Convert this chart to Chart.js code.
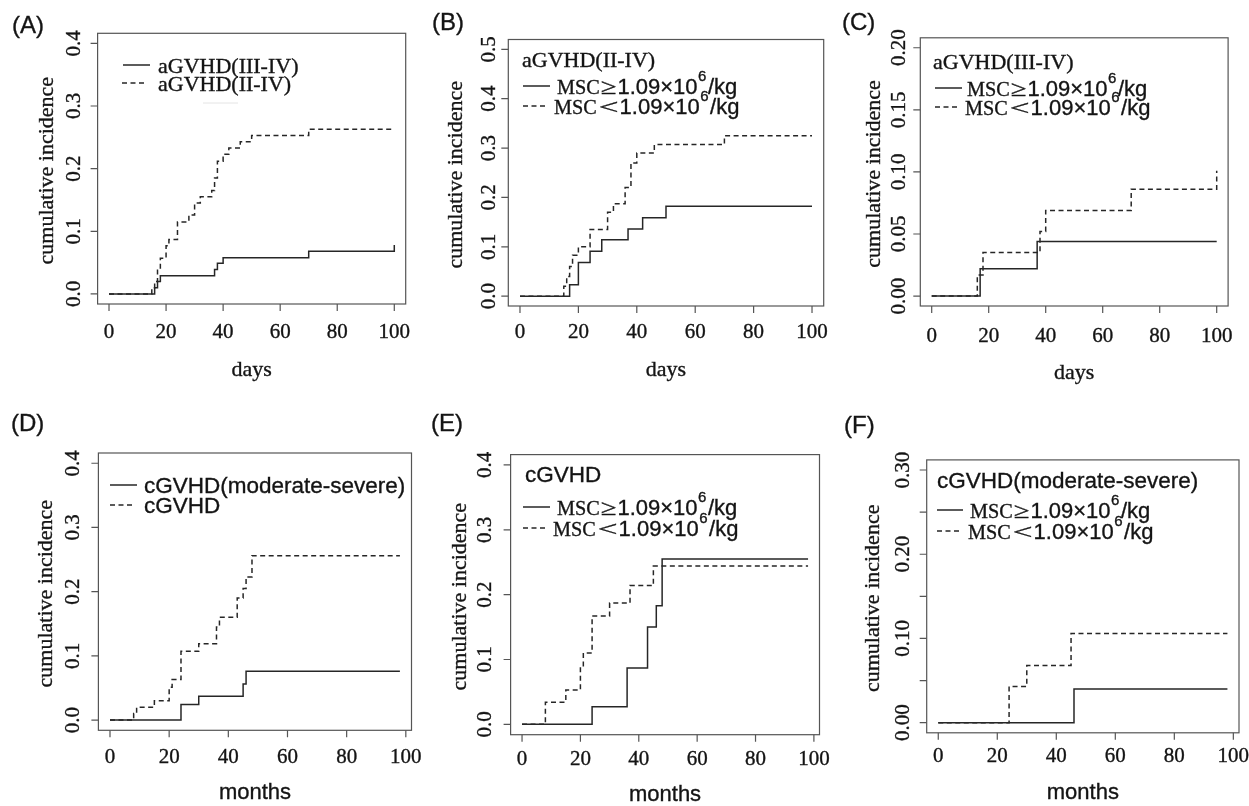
<!DOCTYPE html>
<html>
<head>
<meta charset="utf-8">
<script src="https://cdn.jsdelivr.net/npm/chart.js@4.4.1/dist/chart.umd.min.js"></script>
<style>
html,body{margin:0;padding:0;background:#fff;}
#wrap{position:relative;width:1249px;height:806px;overflow:hidden;background:#fff;}
#wrap canvas{position:absolute;left:0;top:0;}
</style>
</head>
<body>
<div id="wrap"></div>
<script>
// ---------------- DATA ----------------
const xTickValues = [0, 20, 40, 60, 80, 100];
const xTickLabels = ['0', '20', '40', '60', '80', '100'];

const yTicks04 = [0, 0.1, 0.2, 0.3, 0.4];
const yTickLabels04 = ['0.0', '0.1', '0.2', '0.3', '0.4'];
const yTicks05 = [0, 0.1, 0.2, 0.3, 0.4, 0.5];
const yTickLabels05 = ['0.0', '0.1', '0.2', '0.3', '0.4', '0.5'];
const yTicks02 = [0, 0.05, 0.10, 0.15, 0.20];
const yTickLabels02 = ['0.00', '0.05', '0.10', '0.15', '0.20'];
const yTicks03 = [0, 0.05, 0.10, 0.15, 0.20, 0.25, 0.30];
const yTickLabels03 = ['0.00', '', '0.10', '', '0.20', '', '0.30'];

// (A) days
const aGradeIIIIV_x = [0, 16, 17, 18, 37, 38, 40, 70, 100];
const aGradeIIIIV_y = [0, 0.010, 0.020, 0.029, 0.039, 0.049, 0.058, 0.068, 0.078];
const aGradeIIIV_x  = [0, 15, 16, 17, 18, 20, 21, 24, 28, 30, 32, 36, 37, 38, 40, 42, 46, 50, 70, 100];
const aGradeIIIV_y  = [0, 0.010, 0.020, 0.038, 0.057, 0.077, 0.087, 0.115, 0.126, 0.145, 0.155, 0.165, 0.185, 0.212, 0.223, 0.233, 0.243, 0.253, 0.263, 0.263];

// (B) days, aGVHD(II-IV)
const bHigh_x = [0, 17, 20, 24, 28, 37, 42, 50, 100];
const bHigh_y = [0, 0.023, 0.068, 0.091, 0.114, 0.136, 0.159, 0.182, 0.182];
const bLow_x  = [0, 15, 16, 17, 18, 20, 24, 30, 32, 36, 38, 40, 46, 70, 100];
const bLow_y  = [0, 0.020, 0.040, 0.060, 0.083, 0.100, 0.135, 0.170, 0.187, 0.220, 0.270, 0.290, 0.307, 0.325, 0.325];

// (C) days, aGVHD(III-IV)
const cHigh_x = [0, 17, 37, 100];
const cHigh_y = [0, 0.022, 0.044, 0.044];
const cLow_x  = [0, 16, 18, 38, 40, 70, 100];
const cLow_y  = [0, 0.017, 0.035, 0.052, 0.069, 0.086, 0.101];

// (D) months
const dModSev_x = [0, 24, 30, 45, 46, 98];
const dModSev_y = [0, 0.024, 0.037, 0.056, 0.076, 0.076];
const dAll_x    = [0, 8, 9, 15, 20, 21, 24, 30, 36, 37, 43, 45, 46, 48, 98];
const dAll_y    = [0, 0.010, 0.020, 0.030, 0.051, 0.063, 0.107, 0.119, 0.145, 0.160, 0.190, 0.205, 0.223, 0.256, 0.256];

// (E) months, cGVHD
const eHigh_x = [0, 24, 36, 43, 46, 48, 98];
const eHigh_y = [0, 0.027, 0.087, 0.150, 0.183, 0.255, 0.255];
const eLow_x  = [0, 8, 15, 20, 21, 24, 30, 37, 45, 98];
const eLow_y  = [0, 0.034, 0.053, 0.089, 0.110, 0.167, 0.187, 0.214, 0.244, 0.244];

// (F) months, cGVHD(moderate-severe)
const fHigh_x = [0, 46, 98];
const fHigh_y = [0, 0.040, 0.040];
const fLow_x  = [0, 24, 30, 45, 98];
const fLow_y  = [0, 0.043, 0.068, 0.106, 0.106];

// ---------------- STYLE / LAYOUT ----------------
const W = 1249, H = 806;
const SERIF = '"Liberation Serif","DejaVu Serif","Times New Roman",serif';
const SANS = '"Liberation Sans",Arial,"DejaVu Sans",sans-serif';
const LINE_COLOR = '#262626';
const BOX_COLOR = '#555555';
const TEXT_COLOR = '#141414';
const TEXT_STROKE = 0.35;
const DASH = [5, 3.5];

const toPoints = (xs, ys) => xs.map((x, i) => ({ x: x, y: ys[i] }));

function run(t, f, s, o) { return Object.assign({ t: t, f: f, s: s, sx: 1, pre: 0, post: 0, dy: 0 }, o || {}); }
function mscRuns(sign) {
  return [
    run('MSC', SERIF, 22, { sx: 0.92 }),
    run(sign, SERIF, 22, sign === '≥' ? { sx: 1.3, pre: 1, post: 1 } : { sx: 1.6, pre: 2, post: 1 }),
    run('1.09×10', SANS, 22),
    run('6', SANS, 15, { pre: 0.5, dy: -13 }),
    run('/kg', SANS, 22, { pre: 1.5 })
  ];
}

const panels = [
  { id: 'A', box: { l: 97.6, t: 33.3, r: 405.7, b: 304 }, xr: [-4, 104], yr: [-0.016, 0.416],
    yTicks: yTicks04, yLabels: yTickLabels04, xLabOff: 28.5, yLabOff: 23.5, yTitleOff: 50.5,
    xTitle: { t: 'days', f: SERIF, s: 22, y: 370 }, letter: { t: '(A)', x: 12, y: 26 },
    series: [ { x: aGradeIIIIV_x, y: aGradeIIIIV_y, dashed: false, label: 'aGVHD(III-IV)' },
              { x: aGradeIIIV_x, y: aGradeIIIV_y, dashed: true, label: 'aGVHD(II-IV)' } ],
    legend: [ { line: 'solid', x1: 123, x2: 150, y: 65, tx: 158, runs: [run('aGVHD(III-IV)', SERIF, 22)] },
              { line: 'dashed', x1: 122, x2: 147, y: 83, tx: 158, runs: [run('aGVHD(II-IV)', SERIF, 22)] } ],
    faint: { x1: 203, x2: 238, y: 103 } },
  { id: 'B', box: { l: 508.3, t: 39.5, r: 823.7, b: 306 }, xr: [-4, 104], yr: [-0.02, 0.52],
    yTicks: yTicks05, yLabels: yTickLabels05, xLabOff: 26.5, yLabOff: 19, yTitleOff: 52,
    xTitle: { t: 'days', f: SERIF, s: 22, y: 370 }, letter: { t: '(B)', x: 432, y: 23 },
    series: [ { x: bHigh_x, y: bHigh_y, dashed: false, label: 'MSC≥1.09×10^6/kg' },
              { x: bLow_x, y: bLow_y, dashed: true, label: 'MSC<1.09×10^6/kg' } ],
    legend: [ { line: null, y: 59, tx: 522, runs: [run('aGVHD(II-IV)', SERIF, 22)] },
              { line: 'solid', x1: 523, x2: 550, y: 86, tx: 557, runs: mscRuns('≥') },
              { line: 'dashed', x1: 523, x2: 547, y: 106, tx: 554, runs: mscRuns('<') } ] },
  { id: 'C', box: { l: 920.3, t: 37.8, r: 1228.1, b: 306 }, xr: [-4, 104], yr: [-0.008, 0.208],
    yTicks: yTicks02, yLabels: yTickLabels02, xLabOff: 30, yLabOff: 21, yTitleOff: 46.5,
    xTitle: { t: 'days', f: SERIF, s: 22, y: 373 }, letter: { t: '(C)', x: 842, y: 23 },
    series: [ { x: cHigh_x, y: cHigh_y, dashed: false, label: 'MSC≥1.09×10^6/kg' },
              { x: cLow_x, y: cLow_y, dashed: true, label: 'MSC<1.09×10^6/kg' } ],
    legend: [ { line: null, y: 61, tx: 933, runs: [run('aGVHD(III-IV)', SERIF, 22)] },
              { line: 'solid', x1: 935, x2: 962, y: 88, tx: 967, runs: mscRuns('≥') },
              { line: 'dashed', x1: 935, x2: 960, y: 107, tx: 965, runs: mscRuns('<') } ] },
  { id: 'D', box: { l: 98.4, t: 453, r: 411.5, b: 730.3 }, xr: [-3.92, 101.92], yr: [-0.016, 0.416],
    yTicks: yTicks04, yLabels: yTickLabels04, xLabOff: 26.7, yLabOff: 25, yTitleOff: 52,
    xTitle: { t: 'months', f: SANS, s: 22, y: 793 }, letter: { t: '(D)', x: 11, y: 424 },
    series: [ { x: dModSev_x, y: dModSev_y, dashed: false, label: 'cGVHD(moderate-severe)' },
              { x: dAll_x, y: dAll_y, dashed: true, label: 'cGVHD' } ],
    legend: [ { line: 'solid', x1: 110, x2: 137, y: 485, tx: 144, runs: [run('cGVHD(moderate-severe)', SANS, 22.5)] },
              { line: 'dashed', x1: 110, x2: 134, y: 505, tx: 144, runs: [run('cGVHD', SANS, 22.5)] } ] },
  { id: 'E', box: { l: 510.6, t: 454.6, r: 819.5, b: 734.7 }, xr: [-3.92, 101.92], yr: [-0.016, 0.416],
    yTicks: yTicks04, yLabels: yTickLabels04, xLabOff: 24.5, yLabOff: 25.5, yTitleOff: 50,
    xTitle: { t: 'months', f: SANS, s: 22, y: 795 }, letter: { t: '(E)', x: 431, y: 424 },
    series: [ { x: eHigh_x, y: eHigh_y, dashed: false, label: 'MSC≥1.09×10^6/kg' },
              { x: eLow_x, y: eLow_y, dashed: true, label: 'MSC<1.09×10^6/kg' } ],
    legend: [ { line: null, y: 474, tx: 525, runs: [run('cGVHD', SANS, 22.5)] },
              { line: 'solid', x1: 523, x2: 550, y: 507, tx: 557, runs: mscRuns('≥') },
              { line: 'dashed', x1: 523, x2: 547, y: 528, tx: 553, runs: mscRuns('<') } ] },
  { id: 'F', box: { l: 926.7, t: 459.9, r: 1239, b: 732.8 }, xr: [-3.92, 101.92], yr: [-0.012, 0.312],
    yTicks: yTicks03, yLabels: yTickLabels03, xLabOff: 23.5, yLabOff: 23.7, yTitleOff: 53,
    xTitle: { t: 'months', f: SANS, s: 22, y: 793 }, letter: { t: '(F)', x: 844, y: 426 },
    series: [ { x: fHigh_x, y: fHigh_y, dashed: false, label: 'MSC≥1.09×10^6/kg' },
              { x: fLow_x, y: fLow_y, dashed: true, label: 'MSC<1.09×10^6/kg' } ],
    legend: [ { line: null, y: 480, tx: 937, runs: [run('cGVHD(moderate-severe)', SANS, 22.5)] },
              { line: 'solid', x1: 937, x2: 963, y: 510, tx: 970, runs: mscRuns('≥') },
              { line: 'dashed', x1: 937, x2: 961, y: 531, tx: 968, runs: mscRuns('<') } ] }
];

// ---------------- DRAWING ----------------
function txt(ctx, s, x, y) {
  ctx.fillText(s, x, y);
  ctx.strokeText(s, x, y);
}

function drawRuns(ctx, x, baseline, runs) {
  ctx.textAlign = 'left';
  ctx.textBaseline = 'alphabetic';
  let cx = x;
  runs.forEach(r => {
    cx += r.pre;
    ctx.font = r.s + 'px ' + r.f;
    const w = ctx.measureText(r.t).width * r.sx;
    ctx.save();
    ctx.translate(cx, baseline + r.dy);
    ctx.scale(r.sx, 1);
    txt(ctx, r.t, 0, 0);
    ctx.restore();
    cx += w + r.post;
  });
}

function framePlugin(p) {
  return {
    id: 'rframe' + p.id,
    afterDraw(chart) {
      const ctx = chart.ctx;
      const xs = chart.scales.x, ys = chart.scales.y;
      const a = chart.chartArea;
      ctx.save();
      // box
      ctx.strokeStyle = BOX_COLOR;
      ctx.lineWidth = 1.2;
      ctx.setLineDash([]);
      ctx.strokeRect(a.left, a.top, a.right - a.left, a.bottom - a.top);
      // x axis ticks
      ctx.beginPath();
      xTickValues.forEach(v => {
        const px = xs.getPixelForValue(v);
        ctx.moveTo(px, a.bottom);
        ctx.lineTo(px, a.bottom + 7);
      });
      // y axis ticks
      p.yTicks.forEach(v => {
        const py = ys.getPixelForValue(v);
        ctx.moveTo(a.left, py);
        ctx.lineTo(a.left - 7, py);
      });
      ctx.stroke();
      // text style
      ctx.fillStyle = TEXT_COLOR;
      ctx.strokeStyle = TEXT_COLOR;
      ctx.lineWidth = TEXT_STROKE;
      // tick labels
      ctx.font = '21px ' + SERIF;
      ctx.textAlign = 'center';
      ctx.textBaseline = 'middle';
      xTickValues.forEach((v, i) => {
        txt(ctx, xTickLabels[i], xs.getPixelForValue(v), a.bottom + p.xLabOff);
      });
      p.yTicks.forEach((v, i) => {
        const lab = p.yLabels[i];
        if (!lab) return;
        ctx.save();
        ctx.translate(a.left - p.yLabOff, ys.getPixelForValue(v));
        ctx.rotate(-Math.PI / 2);
        txt(ctx, lab, 0, 0);
        ctx.restore();
      });
      // axis titles
      ctx.font = p.xTitle.s + 'px ' + p.xTitle.f;
      txt(ctx, p.xTitle.t, (a.left + a.right) / 2, p.xTitle.y);
      ctx.save();
      ctx.font = '22px ' + SERIF;
      ctx.translate(a.left - p.yTitleOff, (a.top + a.bottom) / 2 + 2);
      ctx.rotate(-Math.PI / 2);
      txt(ctx, 'cumulative incidence', 0, 0);
      ctx.restore();
      // panel letter
      ctx.font = '24px ' + SANS;
      ctx.textAlign = 'left';
      txt(ctx, p.letter.t, p.letter.x, p.letter.y);
      // legend
      p.legend.forEach(it => {
        if (it.line) {
          ctx.save();
          ctx.strokeStyle = LINE_COLOR;
          ctx.lineWidth = 1.5;
          ctx.setLineDash(it.line === 'dashed' ? DASH : []);
          ctx.beginPath();
          ctx.moveTo(it.x1, it.y);
          ctx.lineTo(it.x2, it.y);
          ctx.stroke();
          ctx.restore();
        }
        drawRuns(ctx, it.tx, it.y + 7.5, it.runs);
      });
      if (p.faint) {
        ctx.strokeStyle = '#e4e4e4';
        ctx.lineWidth = 1;
        ctx.beginPath();
        ctx.moveTo(p.faint.x1, p.faint.y);
        ctx.lineTo(p.faint.x2, p.faint.y);
        ctx.stroke();
      }
      ctx.restore();
    }
  };
}

const wrap = document.getElementById('wrap');
panels.forEach(p => {
  const c = document.createElement('canvas');
  c.width = W; c.height = H;
  wrap.appendChild(c);
  new Chart(c, {
    type: 'line',
    data: {
      datasets: p.series.map(s => ({
        label: s.label,
        data: toPoints(s.x, s.y),
        stepped: true,
        borderColor: LINE_COLOR,
        borderWidth: 1.5,
        borderDash: s.dashed ? DASH : [],
        pointRadius: 0,
        fill: false,
        tension: 0
      }))
    },
    options: {
      responsive: false,
      animation: false,
      devicePixelRatio: 1,
      events: [],
      layout: { padding: { left: p.box.l, top: p.box.t, right: W - p.box.r, bottom: H - p.box.b } },
      plugins: { legend: { display: false }, tooltip: { enabled: false } },
      scales: {
        x: { type: 'linear', min: p.xr[0], max: p.xr[1], display: false },
        y: { type: 'linear', min: p.yr[0], max: p.yr[1], display: false }
      }
    },
    plugins: [framePlugin(p)]
  });
});
</script>
</body>
</html>
